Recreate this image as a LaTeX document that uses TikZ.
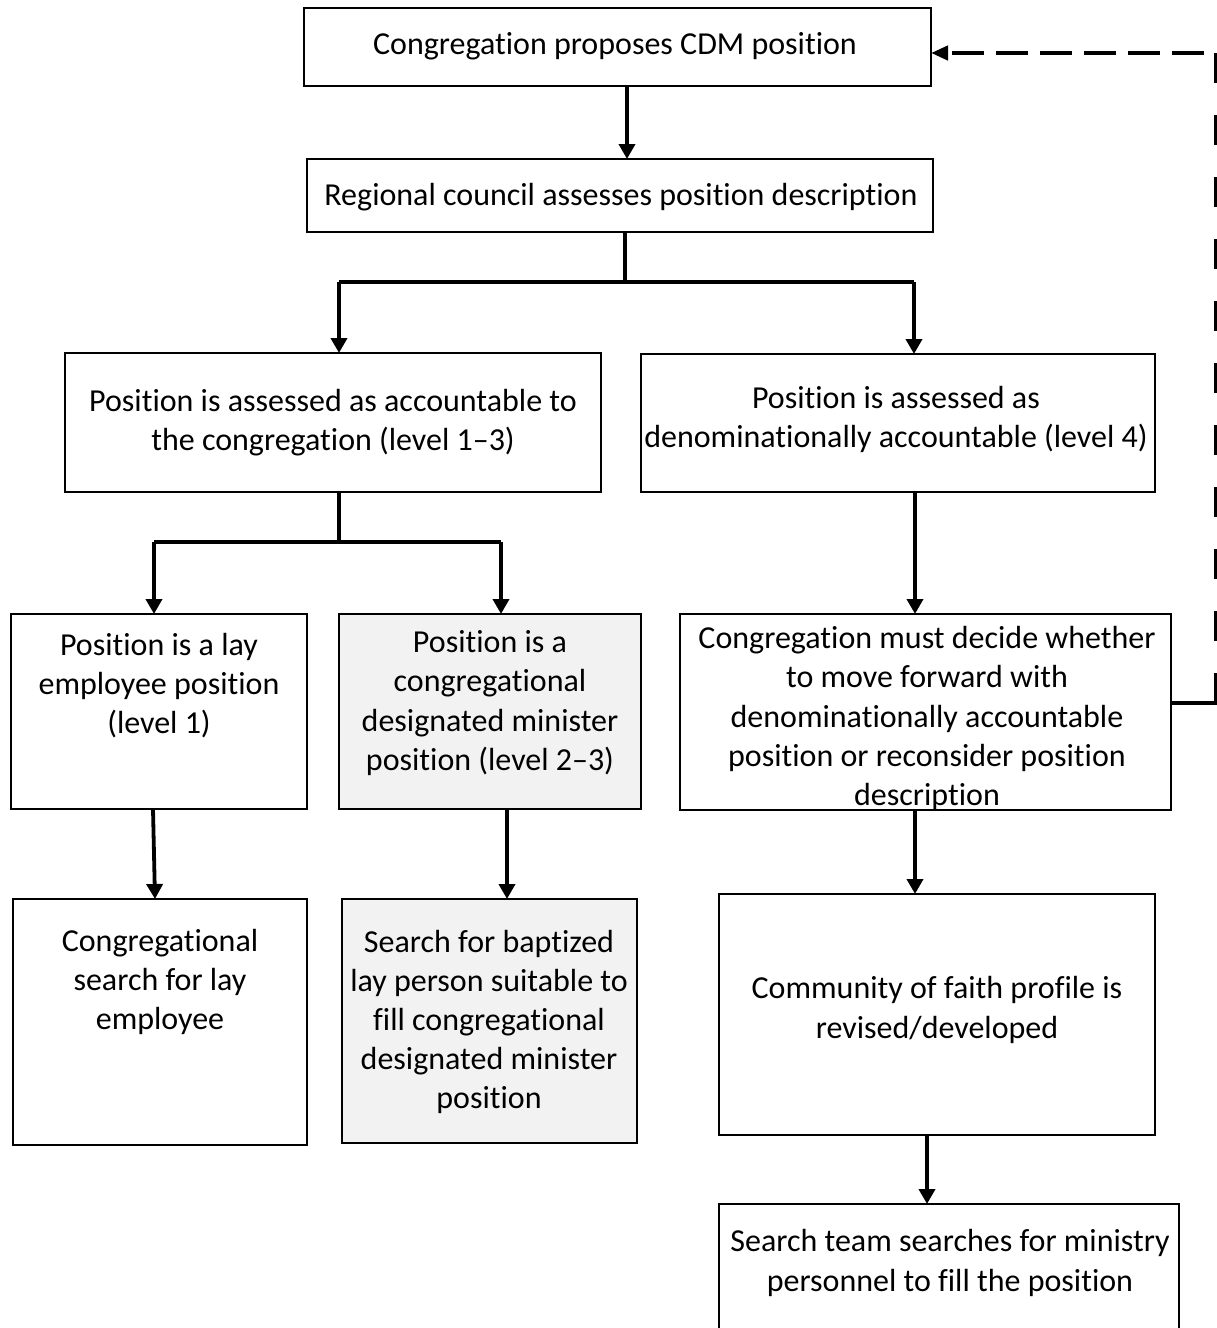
\documentclass[tikz,border=0pt]{standalone}
\usepackage{fontspec}
\setmainfont[Ligatures=NoCommon]{Carlito}
\usetikzlibrary{arrows.meta}
\definecolor{boxgray}{HTML}{F2F2F2}
\tikzset{
  box/.style={draw=black, line width=2.3pt, inner sep=0pt, outer sep=0pt, fill=white},
  graybox/.style={box, fill=boxgray},
  txt/.style={font=\fontsize{32}{39.2}\selectfont, align=center, inner sep=0pt},
  conn/.style={line width=3.8pt, -{Triangle[length=15pt,width=16pt]}},
  line/.style={line width=3.8pt},
  fb/.style={line width=4.6pt}
}
\begin{document}
\begin{tikzpicture}[x=1pt,y=-1pt]
\useasboundingbox (0,0) rectangle (1217,1328);
\clip (0,0) rectangle (1217,1328);
% boxes
\node[box, minimum width=627pt, minimum height=78pt] (b1) at (617.5,47) {};
\node[box, minimum width=626pt, minimum height=73pt] (b2) at (620,195.5) {};
\node[box, minimum width=536pt, minimum height=139pt] (b3) at (333,422.5) {};
\node[box, minimum width=514pt, minimum height=138pt] (b4) at (898,423) {};
\node[box, minimum width=296pt, minimum height=195pt] (b5) at (159,711.5) {};
\node[graybox, minimum width=302pt, minimum height=195pt] (b6) at (490,711.5) {};
\node[box, minimum width=491pt, minimum height=196pt] (b7) at (925.5,712) {};
\node[box, minimum width=294pt, minimum height=246pt] (b8) at (160,1022) {};
\node[graybox, minimum width=295pt, minimum height=244pt] (b9) at (489.5,1021) {};
\node[box, minimum width=436pt, minimum height=241pt] (b10) at (937,1014.5) {};
\node[box, minimum width=460pt, minimum height=146pt] (b11) at (949,1277) {};
% texts
\node[txt] (t1) at (615,46) {Congregation proposes CDM position};
\node[txt] (t2) at (621,197) {Regional council assesses position description};
\node[txt] (t3) at (333,423) {Position is assessed as accountable to\\the congregation (level 1--3)};
\node[txt] (t4) at (896,419.5) {Position is assessed as\\denominationally accountable (level 4)};
\node[txt] (t5) at (159,685.5) {Position is a lay\\employee position\\(level 1)};
\node[txt] (t6) at (490,703) {Position is a\\congregational\\designated minister\\position (level 2--3)};
\node[txt] (t7) at (927,718.5) {Congregation must decide whether\\to move forward with\\denominationally accountable\\position or reconsider position\\description};
\node[txt] (t8) at (160,982) {Congregational\\search for lay\\employee};
\node[txt] (t9) at (489,1022) {Search for baptized\\lay person suitable to\\fill congregational\\designated minister\\position};
\node[txt] (t10) at (937,1010) {Community of faith profile is\\revised/developed};
\node[txt] (t11) at (950,1263) {Search team searches for ministry\\personnel to fill the position};
% connectors
\draw[conn] (627,0 |- b1.south) -- (627,0 |- b2.north);
\coordinate (j1) at (625,282);
\draw[line] (625,0 |- b2.south) -- (j1);
\draw[line] (339,282) -- (914,282);
\draw[conn] (339,282) -- (339,0 |- b3.north);
\draw[conn] (914,282) -- (914,0 |- b4.north);
\coordinate (j2) at (339,542);
\draw[line] (339,0 |- b3.south) -- (j2);
\draw[line] (154,542) -- (501,542);
\draw[conn] (154,542) -- (154,0 |- b5.north);
\draw[conn] (501,542) -- (501,0 |- b6.north);
\draw[conn] (915,0 |- b4.south) -- (915,0 |- b7.north);
\draw[conn] (153,0 |- b5.south) -- (155,0 |- b8.north);
\draw[conn] (507,0 |- b6.south) -- (507,0 |- b9.north);
\draw[conn] (915,0 |- b7.south) -- (915,0 |- b10.north);
\draw[conn] (927,0 |- b10.south) -- (927,0 |- b11.north);
% feedback
\coordinate (cA) at (1216,703);
\coordinate (cB) at (1216,53);
\draw[fb] (b7.east |- cA) -- ([xshift=2.3pt]cA);
\draw[fb, dash pattern=on 30pt off 32pt] (cA) -- (cB);
\draw[fb, dash pattern=on 32pt off 12pt, dash phase=32pt, -{Triangle[length=17pt,width=14pt]}] (cB) -- (b1.east |- cB);
\end{tikzpicture}
\end{document}
